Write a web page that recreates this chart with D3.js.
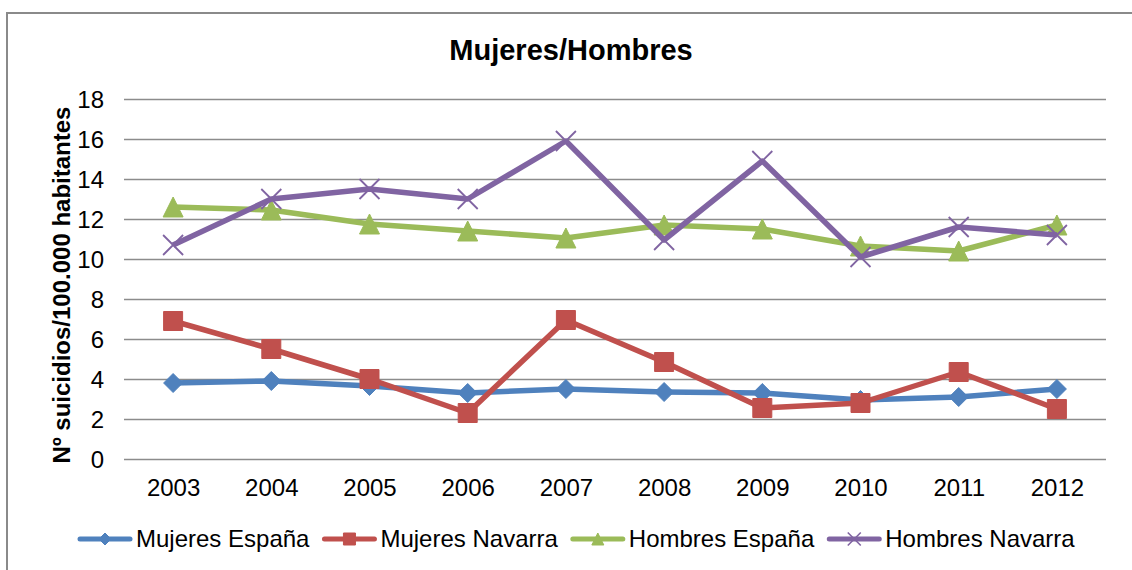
<!DOCTYPE html>
<html>
<head>
<meta charset="utf-8">
<script src="https://cdn.jsdelivr.net/npm/d3@7/dist/d3.min.js"></script>
<style>
  body { margin: 0; background: #fff; }
  svg text { font-family: "Liberation Sans", Arial, sans-serif; fill: #000; }
</style>
</head>
<body>
<svg id="chart"></svg>
<script>
// ---- data ----
const years = ['2003','2004','2005','2006','2007','2008','2009','2010','2011','2012'];
const mujeresEspana  = [3.8, 3.9, 3.65, 3.3, 3.5, 3.35, 3.3, 2.95, 3.1, 3.5];
const mujeresNavarra = [6.9, 5.5, 4.0, 2.3, 6.95, 4.85, 2.55, 2.8, 4.35, 2.5];
const hombresEspana  = [12.6, 12.45, 11.75, 11.4, 11.05, 11.7, 11.5, 10.65, 10.4, 11.7];
const hombresNavarra = [10.7, 13.0, 13.5, 13.0, 15.9, 10.95, 14.9, 10.1, 11.6, 11.2];
const yTicks = [0, 2, 4, 6, 8, 10, 12, 14, 16, 18];

const series = [
  {name: 'Mujeres España',  values: mujeresEspana,  color: '#4F81BD', marker: 'diamond'},
  {name: 'Mujeres Navarra', values: mujeresNavarra, color: '#C0504D', marker: 'square'},
  {name: 'Hombres España',  values: hombresEspana,  color: '#9BBB59', marker: 'triangle'},
  {name: 'Hombres Navarra', values: hombresNavarra, color: '#8064A2', marker: 'x'}
];

const W = 1132, H = 570;
const plot = {left: 124, right: 1106, top: 99, bottom: 459};

const svg = d3.select('#chart').attr('width', W).attr('height', H);

// outer chart border (runs off the right/bottom edge like the reference)
svg.append('rect')
  .attr('x', 7).attr('y', 13).attr('width', 1140).attr('height', 600)
  .attr('fill', '#fff').attr('stroke', '#8a8a8a').attr('stroke-width', 2);

const x = d3.scalePoint().domain(years).range([plot.left, plot.right]).padding(0.5);
const y = d3.scaleLinear().domain([0, 18]).range([plot.bottom, plot.top]);

// gridlines + y labels
const gy = svg.append('g')
  .attr('transform', `translate(${plot.left},0)`)
  .call(d3.axisLeft(y).tickValues(yTicks).tickSize(-(plot.right - plot.left)).tickPadding(20));
gy.select('.domain').remove();
gy.selectAll('.tick line').attr('stroke', '#8c8c8c').attr('stroke-width', 1.6);
gy.selectAll('.tick text').attr('font-size', 24).attr('dy', '0.36em');

// x labels
const gx = svg.append('g')
  .attr('transform', `translate(0,${plot.bottom})`)
  .call(d3.axisBottom(x).tickSize(0).tickPadding(20));
gx.select('.domain').remove();
gx.selectAll('.tick text').attr('font-size', 24);

// title
svg.append('text')
  .attr('x', 571).attr('y', 60)
  .attr('text-anchor', 'middle')
  .attr('font-size', 29).attr('font-weight', 'bold')
  .text('Mujeres/Hombres');

// y axis title
svg.append('text')
  .attr('transform', 'translate(70,285) rotate(-90)')
  .attr('text-anchor', 'middle')
  .attr('font-size', 24).attr('font-weight', 'bold')
  .text('Nº suicidios/100.000 habitantes');

// marker shapes, centred on the point
function markerPath(type, s) {
  const h = s / 2;
  if (type === 'diamond') return `M0,${-h}L${h},0L0,${h}L${-h},0Z`;
  if (type === 'square') return `M${-h},${-h}H${h}V${h}H${-h}Z`;
  if (type === 'triangle') return `M0,${-h}L${h},${h}L${-h},${h}Z`;
  return `M${-h},${-h}L${h},${h}M${h},${-h}L${-h},${h}`;
}
const markerSize = {diamond: 19, square: 19, triangle: 20, x: 20};

const line = d3.line().x((d, i) => x(years[i])).y(d => y(d));

series.forEach(s => {
  const g = svg.append('g');
  g.append('path')
    .attr('d', line(s.values))
    .attr('fill', 'none')
    .attr('stroke', s.color)
    .attr('stroke-width', 5.5)
    .attr('stroke-linejoin', 'round');
  g.selectAll('path.mk')
    .data(s.values)
    .join('path')
    .attr('class', 'mk')
    .attr('transform', (d, i) => `translate(${x(years[i])},${y(d)})`)
    .attr('d', markerPath(s.marker, markerSize[s.marker]))
    .attr('fill', s.marker === 'x' ? 'none' : s.color)
    .attr('stroke', s.color)
    .attr('stroke-width', s.marker === 'x' ? 1.8 : 1);
});

// legend
const legend = svg.append('g').attr('transform', 'translate(0,539)');
let lx = 78;
series.forEach(s => {
  const g = legend.append('g').attr('transform', `translate(${lx},0)`);
  g.append('line')
    .attr('x1', 2).attr('x2', 52)
    .attr('stroke', s.color).attr('stroke-width', 5).attr('stroke-linecap', 'round');
  g.append('path')
    .attr('transform', 'translate(27,0)')
    .attr('d', markerPath(s.marker, s.marker === 'x' ? 13 : 12))
    .attr('fill', s.marker === 'x' ? 'none' : s.color)
    .attr('stroke', s.color)
    .attr('stroke-width', s.marker === 'x' ? 1.6 : 1);
  const t = g.append('text')
    .attr('x', 58).attr('y', 0).attr('dy', '0.35em')
    .attr('font-size', 24)
    .text(s.name);
  lx += 58 + t.node().getComputedTextLength() + 13;
});
</script>
</body>
</html>
